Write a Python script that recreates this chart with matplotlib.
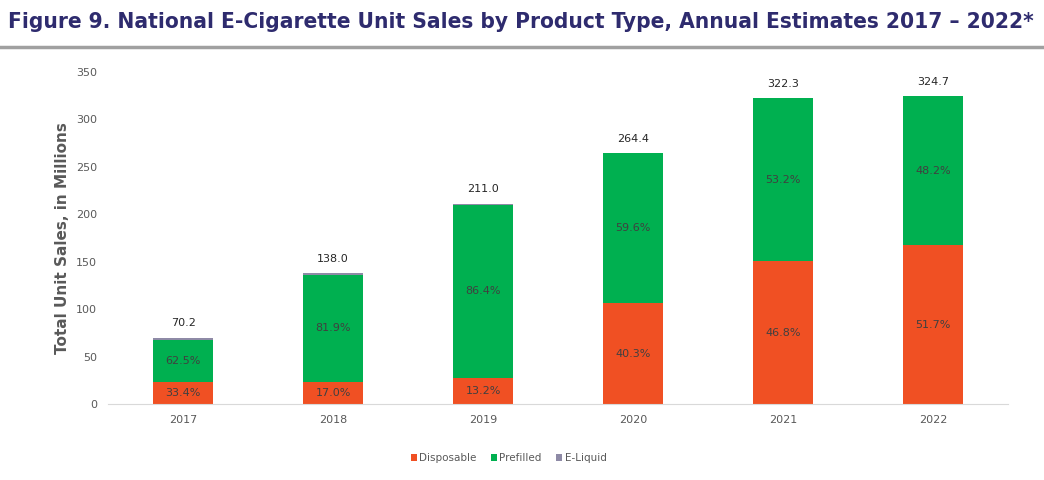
import numpy as np
import matplotlib
matplotlib.use('Agg')
from matplotlib import pyplot as plt

years = ['2017', '2018', '2019', '2020', '2021', '2022']
totals = [70.2, 138.0, 211.0, 264.4, 322.3, 324.7]
pct_disposable = [33.4, 17.0, 13.2, 40.3, 46.8, 51.7]
pct_prefilled = [62.5, 81.9, 86.4, 59.6, 53.2, 48.2]
pct_eliquid = [4.1, 1.1, 0.4, 0.1, 0.0, 0.1]

tot = np.array(totals)
disp = tot * np.array(pct_disposable) / 100
pref = tot * np.array(pct_prefilled) / 100
eliq = tot * np.array(pct_eliquid) / 100

c_disp = '#F05023'
c_pref = '#00B050'
c_eliq = '#8E8AA6'
txt = '#404040'

plt.rcParams['font.family'] = 'DejaVu Sans'

fig = plt.figure(figsize=(10.44, 4.8), dpi=100)
ax = fig.add_axes([0.1035, 0.158, 0.862, 0.692])

x = np.arange(len(years))
w = 0.4
ax.bar(x, disp, w, color=c_disp, label='Disposable')
ax.bar(x, pref, w, bottom=disp, color=c_pref, label='Prefilled')
ax.bar(x, eliq, w, bottom=disp + pref, color=c_eliq, label='E-Liquid')

for i in range(len(years)):
    ax.text(x[i], disp[i] / 2, f'{pct_disposable[i]:.1f}%', ha='center',
            va='center', fontsize=8, color=txt)
    ax.text(x[i], disp[i] + pref[i] / 2, f'{pct_prefilled[i]:.1f}%', ha='center',
            va='center', fontsize=8, color=txt)
    ax.text(x[i], tot[i] + 10, f'{totals[i]:.1f}', ha='center',
            va='bottom', fontsize=8, color='#262626')

ax.set_xlim(-0.5, len(years) - 0.5)
ax.set_ylim(0, 350)
ax.set_yticks(np.arange(0, 351, 50))
ax.set_xticks(x)
ax.set_xticklabels(years)
ax.tick_params(length=0, labelsize=8, labelcolor='#595959', pad=8)
for s in ['top', 'right', 'left']:
    ax.spines[s].set_visible(False)
ax.spines['bottom'].set_color('#D9D9D9')

ax.set_ylabel('Total Unit Sales, in Millions', fontsize=11, fontweight='bold',
              color='#595959', labelpad=4)

ax.legend(loc='upper center', bbox_to_anchor=(0.445, -0.12), ncol=3, frameon=False,
          fontsize=7.5, handlelength=0.6, handleheight=0.6, handletextpad=0.2,
          columnspacing=1.4, labelcolor='#595959')

fig.text(0.008, 0.955, 'Figure 9. National E-Cigarette Unit Sales by Product Type, Annual Estimates 2017 \u2013 2022*',
         fontsize=16.2, fontweight='bold', fontstretch='condensed', color='#2E2B6E',
         va='center', ha='left')
fig.add_artist(plt.Line2D([0, 1], [0.903, 0.903], color='#A0A0A0', lw=2.5))

fig.savefig('out.png', dpi=100)
